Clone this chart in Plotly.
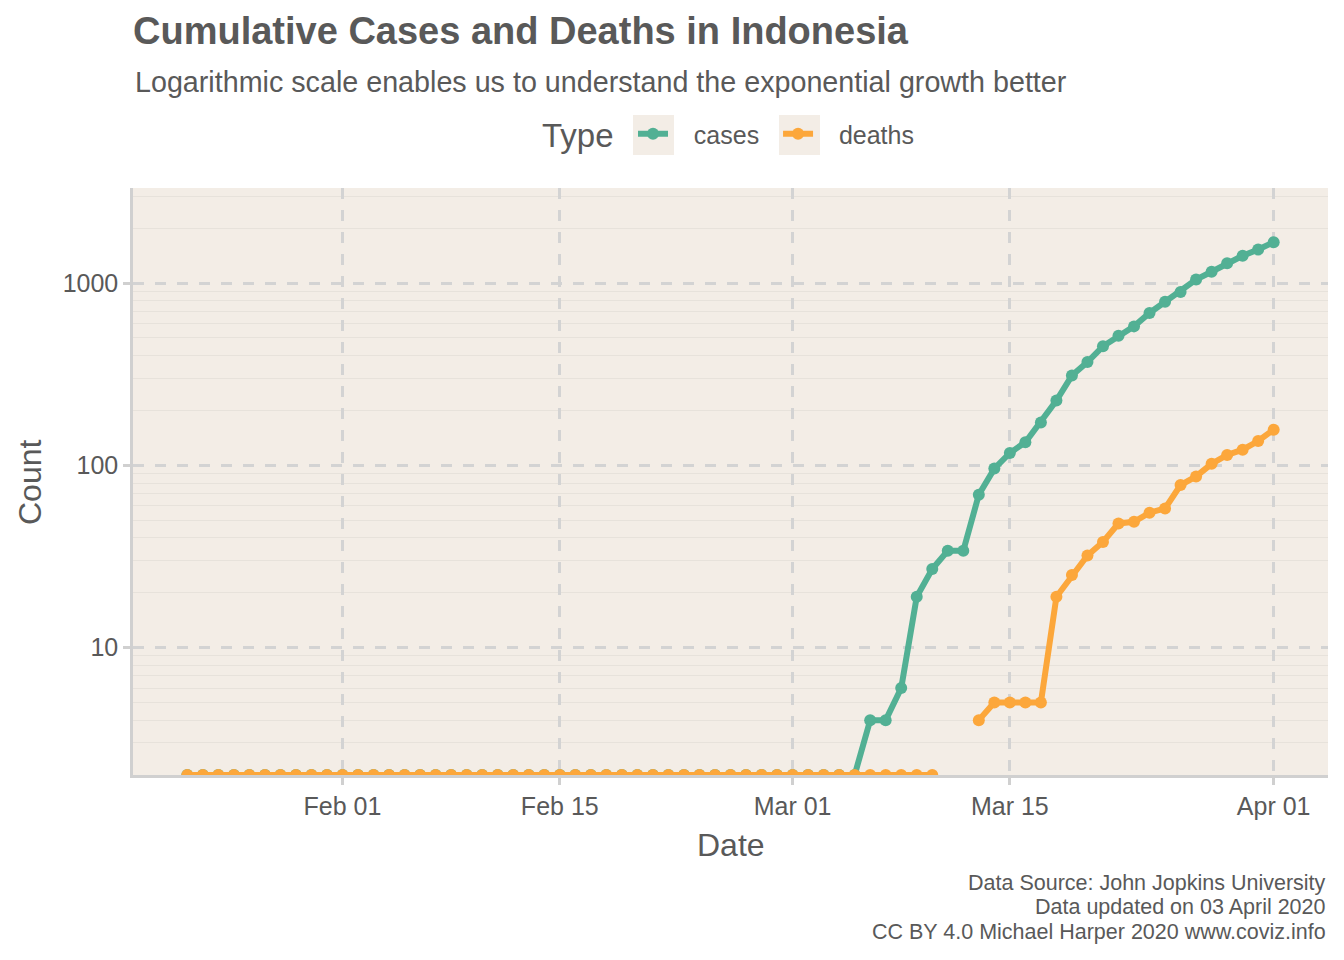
import math
import pandas as pd
import plotly.graph_objects as go

# ---------------- data ----------------
dates = pd.date_range("2020-01-22", "2020-04-01", freq="D")

cases = [0] * 40 + [2, 2, 2, 2] + [
    4, 4, 6, 19, 27, 34, 34, 69, 96, 117,
    134, 172, 227, 311, 369, 450, 514, 579, 686, 790,
    893, 1046, 1155, 1285, 1414, 1528, 1677,
]
deaths = [0] * 49 + [1, 1] + [
    4, 5, 5, 5, 5, 19, 25, 32, 38, 48,
    49, 55, 58, 78, 87, 102, 114, 122, 136, 157,
]

series_names = ["cases", "deaths"]
series_colors = ["#52b094", "#fca73b"]

x_tick_dates = ["2020-02-01", "2020-02-15", "2020-03-01", "2020-03-15", "2020-04-01"]
x_tick_labels = ["Feb 01", "Feb 15", "Mar 01", "Mar 15", "Apr 01"]
y_tick_vals = [10, 100, 1000]
y_tick_labels = ["10", "100", "1000"]
y_minor_vals = [m * 10 ** e for e in range(0, 4) for m in range(2, 10)]

caption_lines = [
    "Data Source: John Jopkins University",
    "Data updated on 03 April 2020",
    "CC BY 4.0 Michael Harper 2020 www.coviz.info",
]

Y_MIN = 2
Y_MAX_LOG = 3.522

TXT = "#595959"
PANEL = "#f3ede6"
FONT = "Liberation Sans, Arial, Helvetica, sans-serif"
NB = "\u00a0"

# page offset (browser body margin) -> work in figure coordinates
W, H = 1336, 952
ML, MR, MT, MB = 125, 16, 180, 185
PH = H - MT - MB  # 587
PW = W - ML - MR  # 1195


def py(page_y):
    """page pixel y -> paper y"""
    return (H - MB - (page_y - 8)) / PH


def px(page_x):
    """page pixel x -> paper x"""
    return (page_x - 8 - ML) / PW


def log_clip(vals, lo):
    """ggplot-like log handling: zeros (-Inf) squish to panel edge, other out-of-range dropped."""
    out = []
    for v in vals:
        if v == 0:
            out.append(lo)
        elif v < lo:
            out.append(None)
        else:
            out.append(v)
    return out


fig = go.Figure()
for name, vals, col in zip(series_names, [cases, deaths], series_colors):
    fig.add_trace(go.Scatter(
        x=dates, y=log_clip(vals, Y_MIN), name=NB * 3 + name + NB * 2, mode="lines+markers",
        line=dict(color=col, width=6),
        marker=dict(color=col, size=12),
        connectgaps=False,
    ))

fig.update_layout(
    width=W, height=H,
    margin=dict(l=ML, r=MR, t=MT, b=MB),
    paper_bgcolor="white",
    plot_bgcolor=PANEL,
    font=dict(family=FONT, color=TXT, size=25),
    title=dict(
        text="<b>Cumulative Cases and Deaths in Indonesia</b>",
        x=ML / W, xanchor="left", xref="container",
        y=1 - (31 - 8) / H, yanchor="middle", yref="container",
        font=dict(size=38, color=TXT, family=FONT),
    ),
    legend=dict(
        orientation="h", x=px(633), xanchor="left", y=py(134), yanchor="middle",
        font=dict(size=25, color=TXT),
        bgcolor="rgba(0,0,0,0)",
        itemwidth=30,
    ),
    showlegend=True,
)

# legend title
fig.add_annotation(
    text="Type", xref="paper", yref="paper", x=px(616), xanchor="right",
    y=py(136), yanchor="middle", showarrow=False,
    font=dict(size=33, color=TXT),
)

# legend key backgrounds (ggplot legend.key)
for x0 in [633, 779]:
    fig.add_shape(
        type="rect", xref="paper", yref="paper",
        x0=px(x0), x1=px(x0 + 41), y0=py(155), y1=py(115),
        fillcolor=PANEL, line=dict(width=0), layer="below",
    )

fig.update_xaxes(
    type="date",
    range=["2020-01-18 12:00", "2020-04-04 12:00"],
    tickvals=x_tick_dates, ticktext=x_tick_labels,
    ticks="outside", ticklen=7, tickwidth=2.5, tickcolor="#d0d0d0",
    tickfont=dict(size=25, color=TXT),
    showgrid=True, gridcolor="#d3d3d3", gridwidth=2.5, griddash="11px,11px",
    showline=True, linecolor="#d0d0d0", linewidth=2.5,
    zeroline=False,
)
fig.update_yaxes(
    type="log",
    range=[math.log10(Y_MIN), Y_MAX_LOG],
    tickvals=y_tick_vals, ticktext=y_tick_labels,
    ticks="outside", ticklen=7, tickwidth=2.5, tickcolor="#d0d0d0",
    tickfont=dict(size=25, color=TXT),
    showgrid=True, gridcolor="#d3d3d3", gridwidth=2.5, griddash="11px,11px",
    minor=dict(tickvals=y_minor_vals, showgrid=True, gridcolor="#e7e2db",
               gridwidth=1, griddash="solid", ticks=""),
    showline=True, linecolor="#d0d0d0", linewidth=2.5,
    zeroline=False,
)

fig.add_annotation(
    text="Logarithmic scale enables us to understand the exponential growth better",
    xref="paper", yref="paper", x=0, xanchor="left",
    y=py(82), yanchor="middle", showarrow=False,
    font=dict(size=28.7, color=TXT),
)
fig.add_annotation(
    text="Date", xref="paper", yref="paper", x=0.5, xanchor="center",
    y=py(845), yanchor="middle", showarrow=False,
    font=dict(size=32, color=TXT),
)
fig.add_annotation(
    text="Count", xref="paper", yref="paper", x=px(30), xanchor="center",
    y=py(482), yanchor="middle", textangle=-90, showarrow=False,
    font=dict(size=32, color=TXT),
)
for line, yc in zip(caption_lines, [882.5, 907, 931.5]):
    fig.add_annotation(
        text=line, xref="paper", yref="paper", x=1, xanchor="right",
        y=py(yc), yanchor="middle", showarrow=False,
        font=dict(size=21.5, color=TXT),
    )

fig.write_html("out.html")
